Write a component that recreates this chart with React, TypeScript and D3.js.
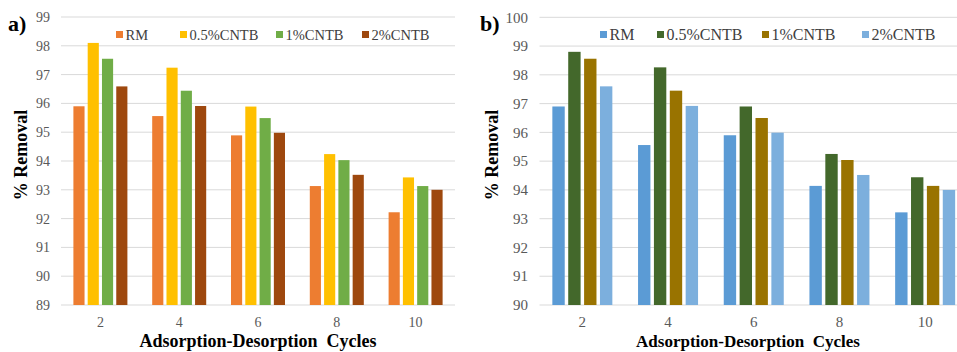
import React from "react";
import * as d3 from "d3";

const cycles = ["2", "4", "6", "8", "10"];
const seriesNames = ["RM", "0.5%CNTB", "1%CNTB", "2%CNTB"];

const aRM = [95.9, 95.56, 94.89, 93.13, 92.22];
const aCNTB05 = [98.1, 97.24, 95.89, 94.24, 93.43];
const aCNTB1 = [97.55, 96.44, 95.49, 94.03, 93.13];
const aCNTB2 = [96.59, 95.91, 94.98, 93.52, 93.0];

const bRM = [96.9, 95.56, 95.9, 94.14, 93.22];
const bCNTB05 = [98.8, 98.26, 96.9, 95.25, 94.44];
const bCNTB1 = [98.56, 97.45, 96.5, 95.04, 94.14];
const bCNTB2 = [97.6, 96.92, 95.99, 94.52, 94.0];

const aTicks = [89, 90, 91, 92, 93, 94, 95, 96, 97, 98, 99];
const bTicks = [90, 91, 92, 93, 94, 95, 96, 97, 98, 99, 100];

const aColors = ["#ED7D31", "#FFC000", "#70AD47", "#9E480E"];
const bColors = ["#5B9BD5", "#43682B", "#997300", "#7CAFDD"];

const FONT = '"Liberation Serif", "Times New Roman", Tinos, "DejaVu Serif", serif';

type PanelProps = {
  label: string;
  data: number[][];
  colors: string[];
  ticks: number[];
  x0: number;
  x1: number;
  gridEnd: number;
  yTop: number;
  yBottom: number;
  groupW: number;
  tickLabelX: number;
  tickFont: number;
  legendSquares: number[];
  legendFont: number;
  labelX: number;
  yTitleX: number;
  xTitleX: number;
  xTitleFont: number;
};

function Panel(p: PanelProps) {
  const y = d3
    .scaleLinear()
    .domain([p.ticks[0], p.ticks[p.ticks.length - 1]])
    .range([p.yBottom, p.yTop]);
  const xg = d3.scaleBand<string>().domain(cycles).range([p.x0, p.x1]).padding(0);
  const bw = xg.bandwidth();
  const xs = d3
    .scaleBand<string>()
    .domain(seriesNames)
    .range([(bw - p.groupW) / 2, (bw + p.groupW) / 2])
    .paddingInner(0.22)
    .paddingOuter(0);
  const txt = (size: number, weight: string = "normal") => ({
    fontFamily: FONT,
    fontSize: size + "px",
    fontWeight: weight as any,
  });
  return (
    <g>
      {p.ticks.map((t) => (
        <g key={t}>
          <line x1={p.x0} x2={p.gridEnd} y1={y(t)} y2={y(t)} stroke="#d9d9d9" strokeWidth={1} />
          <text
            x={p.tickLabelX}
            y={y(t)}
            dy="0.35em"
            textAnchor="end"
            style={txt(p.tickFont)}
            fill="#595959"
          >
            {t}
          </text>
        </g>
      ))}
      {cycles.map((c, i) => (
        <g key={c} transform={`translate(${xg(c)},0)`}>
          {seriesNames.map((s, j) => (
            <rect
              key={s}
              x={xs(s)}
              width={xs.bandwidth()}
              y={y(p.data[j][i])}
              height={p.yBottom - y(p.data[j][i])}
              fill={p.colors[j]}
            />
          ))}
          <text x={bw / 2} y={327} textAnchor="middle" style={txt(p.tickFont)} fill="#595959">
            {c}
          </text>
        </g>
      ))}
      {seriesNames.map((s, j) => (
        <g key={s}>
          <rect x={p.legendSquares[j]} y={31} width={7} height={7} fill={p.colors[j]} />
          <text
            x={p.legendSquares[j] + 9.5}
            y={34.5}
            dy="0.35em"
            style={txt(p.legendFont)}
            fill="#404040"
          >
            {s}
          </text>
        </g>
      ))}
      <text x={p.labelX} y={31} style={txt(22, "bold")} fill="#000">
        {p.label}
      </text>
      <text
        transform={`translate(${p.yTitleX},155) rotate(-90)`}
        textAnchor="middle"
        style={txt(18, "bold")}
        fill="#000"
        dy="0.35em"
      >
        % Removal
      </text>
      <text
        x={p.xTitleX}
        y={347}
        textAnchor="middle"
        style={{ ...txt(p.xTitleFont, "bold"), whiteSpace: "pre" }}
        fill="#000"
      >
        {"Adsorption-Desorption  Cycles"}
      </text>
    </g>
  );
}

export default function App() {
  return (
    <svg
      width={957}
      height={352}
      style={{ position: "absolute", left: 0, top: 0, background: "#fff" }}
    >
      <rect width={957} height={352} fill="#fff" />
      <Panel
        label="a)"
        data={[aRM, aCNTB05, aCNTB1, aCNTB2]}
        colors={aColors}
        ticks={aTicks}
        x0={61}
        x1={455}
        gridEnd={455}
        yTop={17}
        yBottom={305}
        groupW={54}
        tickLabelX={50}
        tickFont={14}
        legendSquares={[116, 180, 276, 362]}
        legendFont={14.5}
        labelX={8}
        yTitleX={21}
        xTitleX={258}
        xTitleFont={18}
      />
      <Panel
        label="b)"
        data={[bRM, bCNTB05, bCNTB1, bCNTB2]}
        colors={bColors}
        ticks={bTicks}
        x0={539.5}
        x1={968}
        gridEnd={957}
        yTop={17.3}
        yBottom={305}
        groupW={60}
        tickLabelX={528}
        tickFont={15}
        legendSquares={[600, 657, 762, 862]}
        legendFont={16}
        labelX={480}
        yTitleX={492}
        xTitleX={748}
        xTitleFont={17}
      />
    </svg>
  );
}
